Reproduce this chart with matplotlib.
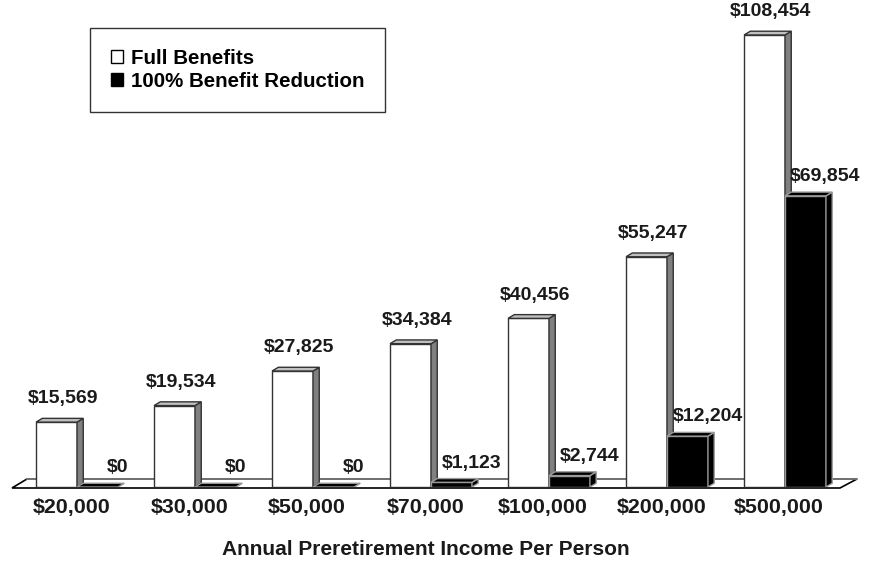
import matplotlib.pyplot as plt
from matplotlib.patches import Polygon, Patch

plt.rcParams['font.family'] = ['Liberation Sans', 'DejaVu Sans']
plt.rcParams['font.weight'] = 'bold'

incomes = ['$20,000', '$30,000', '$50,000', '$70,000', '$100,000', '$200,000', '$500,000']
full_benefits = [15569, 19534, 27825, 34384, 40456, 55247, 108454]
reduced_benefits = [0, 0, 0, 1123, 2744, 12204, 69854]
series_names = ['Full Benefits', '100% Benefit Reduction']

W = 0.347      # bar width (category units)
DX = 0.053     # 3d depth, x
DY = 900       # 3d depth, y (dollars)

fig = plt.figure(figsize=(8.75, 5.61), dpi=100)
ax = fig.add_axes([0, 74 / 561, 1, 487 / 561])
ax.set_xlim(-77 / 118, 798 / 118)
ax.set_ylim(0, 116843)
for s in ax.spines.values():
    s.set_visible(False)
ax.set_yticks([])

# floor
floor = Polygon([(-0.551, -240), (6.466, -240), (6.61, 1919), (-0.424, 1919)],
                closed=True, facecolor='white', edgecolor='black', lw=1.2,
                clip_on=False, zorder=1)
ax.add_patch(floor)
ax.plot([-0.424, 6.61], [1919, 1919], color='#808080', lw=1.2, zorder=1.1)


def bar3d(x0, h, face, side, top, edge, z):
    ax.bar(x0, h, width=W, align='edge', color=face, edgecolor=edge, lw=1, zorder=z)
    ax.add_patch(Polygon([(x0 + W, 0), (x0 + W + DX, DY), (x0 + W + DX, h + DY), (x0 + W, h)],
                         closed=True, facecolor=side, edgecolor=edge, lw=1, zorder=z))
    ax.add_patch(Polygon([(x0, h), (x0 + W, h), (x0 + W + DX, h + DY), (x0 + DX, h + DY)],
                         closed=True, facecolor=top, edgecolor=edge, lw=1, zorder=z))


for i, v in enumerate(full_benefits):
    bar3d(i - W, v, 'white', '#808080', '#c0c0c0', '#333333', 2 + i * 0.01)
    ax.annotate(f'${v:,}', (i - W / 2 + DX, v + DY), xytext=(0, 8),
                textcoords='offset points', ha='center', va='bottom', fontsize=14,
                color='#1a1a1a')

for i, v in enumerate(reduced_benefits):
    bar3d(i, v, 'black', 'black', 'black', '#9a9a9a', 3 + i * 0.01)
    ax.annotate(f'${v:,}', (i + W / 2 + 0.17, v + DY), xytext=(0, 5),
                textcoords='offset points', ha='center', va='bottom', fontsize=14,
                color='#1a1a1a')

ax.set_xticks([i - 0.05 for i in range(len(incomes))])
ax.set_xticklabels(incomes, fontsize=15.4, color='#1a1a1a')
ax.tick_params(axis='x', length=0, pad=8)
ax.set_xlabel('Annual Preretirement Income Per Person', fontsize=15,
              fontweight='bold', color='#1a1a1a')
ax.xaxis.set_label_coords(425.5 / 875, -0.108)

handles = [Patch(facecolor='white', edgecolor='black', lw=1),
           Patch(facecolor='black', edgecolor='black', lw=1)]
leg = fig.legend(handles, series_names, loc='upper left',
                 bbox_to_anchor=(90 / 875, 1 - 28 / 561), fontsize=14.8,
                 frameon=True, fancybox=False, edgecolor='#333333', framealpha=1,
                 handlelength=0.6, handleheight=0.6, handletextpad=0.4,
                 labelspacing=0.22, borderpad=1.0, borderaxespad=0)
leg.get_frame().set_linewidth(1)

fig.savefig('out.png', dpi=100)
